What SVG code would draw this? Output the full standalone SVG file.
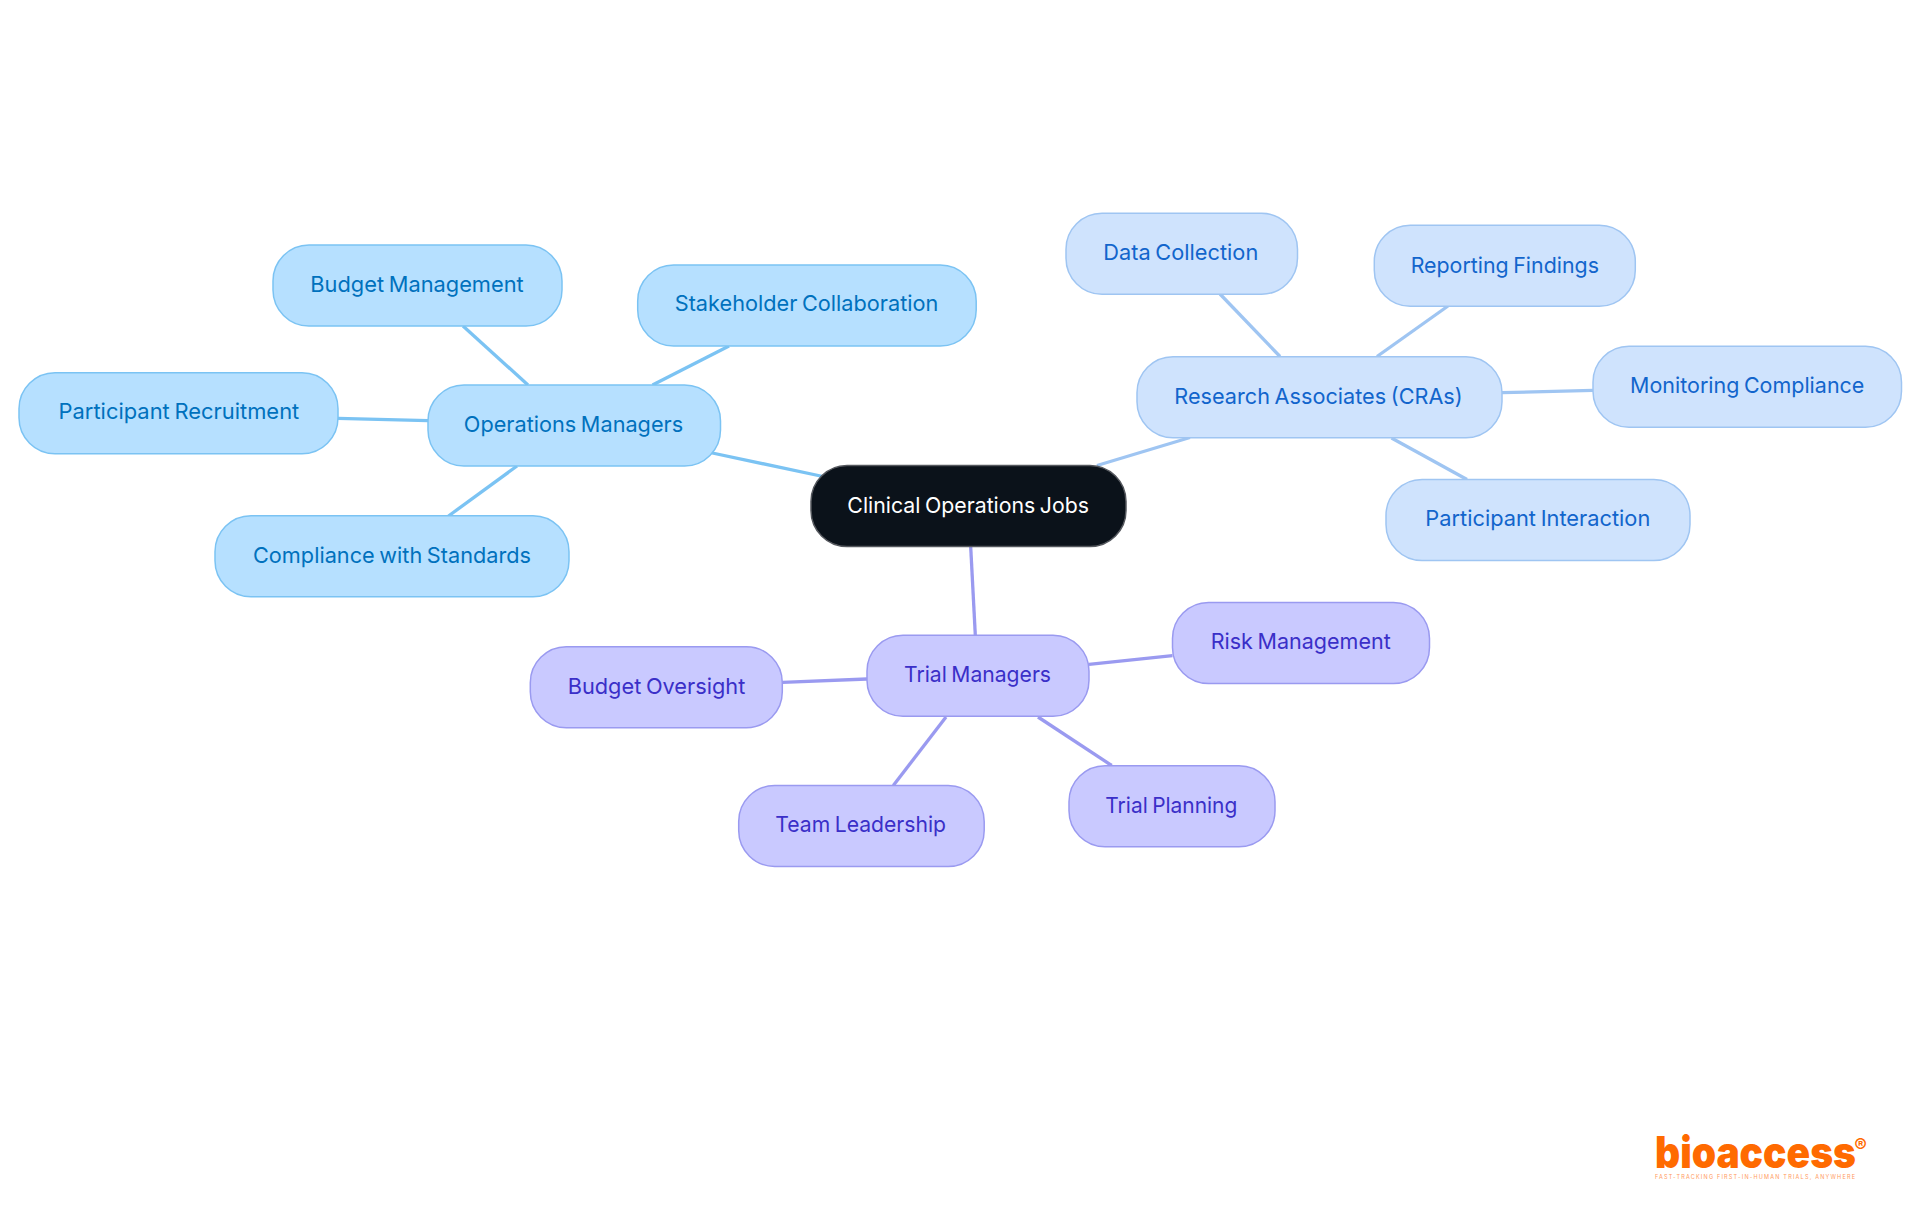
<svg xmlns="http://www.w3.org/2000/svg" width="1920" height="1215" viewBox="0 0 1920 1215">
<style>
text{font-family:"Inter","Noto Sans",sans-serif;font-size:22px;word-spacing:-1.5px;text-anchor:middle}
.n{stroke-width:1.5}
.c{fill:none;stroke-width:3.3}
.a rect{fill:#b6e0ff;stroke:#7bc3f3}.a text{fill:#0071bd}
.b rect{fill:#cfe3fd;stroke:#9fc5f2}.b text{fill:#1265cc}
.d rect{fill:#c9c9ff;stroke:#9a9af0}.d text{fill:#3a2fc8}
.ca{stroke:#7bc3f3}.cb{stroke:#9fc5f2}.cd{stroke:#9a9af0}
</style>
<rect width="1920" height="1215" fill="#fff"/>
<g id="connectors">
<path class="c ca" d="M823 476.500L710 452.500"/>
<path class="c ca" d="M528 385L463 326"/>
<path class="c ca" d="M652.500 385L729 346"/>
<path class="c ca" d="M428 420.700L338 418.300"/>
<path class="c ca" d="M517 466L448.500 516"/>
<path class="c cb" d="M1097 465.500L1190 437.500"/>
<path class="c cb" d="M1280 356.500L1220 294"/>
<path class="c cb" d="M1377 356.500L1448 306"/>
<path class="c cb" d="M1502 392.700L1593 390.300"/>
<path class="c cb" d="M1391.500 438L1467 479.500"/>
<path class="c cd" d="M970.700 547L975.300 635"/>
<path class="c cd" d="M1089 664.300L1172.500 655.700"/>
<path class="c cd" d="M867 679L782.500 682.300"/>
<path class="c cd" d="M946 717L893.300 785.500"/>
<path class="c cd" d="M1038 717L1111.700 765.500"/>
</g>
<g id="root"><rect x="811" y="465.500" width="315" height="81" rx="36" fill="#0b121a" stroke="#55585e" stroke-width="1.500"/><text x="968.200" y="512.900" fill="#fff" textLength="241.700" lengthAdjust="spacingAndGlyphs">Clinical Operations Jobs</text></g>
<g id="ops" class="a"><rect class="n" x="428" y="385" width="292.500" height="81" rx="36"/><text x="573.500" y="432.300" textLength="219.300" lengthAdjust="spacingAndGlyphs">Operations Managers</text></g>
<g id="recruit" class="a"><rect class="n" x="19" y="372.700" width="319" height="81" rx="36"/><text x="178.900" y="419.400" textLength="240.700" lengthAdjust="spacingAndGlyphs">Participant Recruitment</text></g>
<g id="budget" class="a"><rect class="n" x="273" y="245" width="289" height="81" rx="36"/><text x="417" y="292.400" textLength="213.400" lengthAdjust="spacingAndGlyphs">Budget Management</text></g>
<g id="stake" class="a"><rect class="n" x="637.700" y="265" width="338.500" height="81" rx="36"/><text x="806.600" y="311.100" textLength="263.700" lengthAdjust="spacingAndGlyphs">Stakeholder Collaboration</text></g>
<g id="compliance" class="a"><rect class="n" x="215" y="515.700" width="354" height="81" rx="36"/><text x="392" y="563.400" textLength="278" lengthAdjust="spacingAndGlyphs">Compliance with Standards</text></g>
<g id="cra" class="b"><rect class="n" x="1137" y="356.700" width="365" height="81" rx="36"/><text x="1318.500" y="404.100" textLength="288.400" lengthAdjust="spacingAndGlyphs">Research Associates (CRAs)</text></g>
<g id="data" class="b"><rect class="n" x="1066" y="213.300" width="231.500" height="81" rx="36"/><text x="1180.800" y="260.100" textLength="155" lengthAdjust="spacingAndGlyphs">Data Collection</text></g>
<g id="report" class="b"><rect class="n" x="1374.300" y="225.300" width="261" height="81" rx="36"/><text x="1504.800" y="272.600" textLength="188.300" lengthAdjust="spacingAndGlyphs">Reporting Findings</text></g>
<g id="monitor" class="b"><rect class="n" x="1593" y="346.300" width="308.500" height="81" rx="36"/><text x="1747.200" y="393.300" textLength="234.300" lengthAdjust="spacingAndGlyphs">Monitoring Compliance</text></g>
<g id="interact" class="b"><rect class="n" x="1386" y="479.500" width="304" height="81" rx="36"/><text x="1537.800" y="526.300" textLength="225" lengthAdjust="spacingAndGlyphs">Participant Interaction</text></g>
<g id="trial" class="d"><rect class="n" x="867" y="635.200" width="222" height="81" rx="36"/><text x="977.500" y="682.300" textLength="147" lengthAdjust="spacingAndGlyphs">Trial Managers</text></g>
<g id="risk" class="d"><rect class="n" x="1172.500" y="602.500" width="257" height="81" rx="36"/><text x="1300.700" y="649.400" textLength="180" lengthAdjust="spacingAndGlyphs">Risk Management</text></g>
<g id="oversight" class="d"><rect class="n" x="530.300" y="646.700" width="252" height="81" rx="36"/><text x="656.500" y="694.400" textLength="177.600" lengthAdjust="spacingAndGlyphs">Budget Oversight</text></g>
<g id="team" class="d"><rect class="n" x="738.700" y="785.500" width="245.500" height="81" rx="36"/><text x="860.700" y="832.400" textLength="170.700" lengthAdjust="spacingAndGlyphs">Team Leadership</text></g>
<g id="planning" class="d"><rect class="n" x="1069" y="765.800" width="206" height="81" rx="36"/><text x="1171.300" y="813.400" textLength="132" lengthAdjust="spacingAndGlyphs">Trial Planning</text></g>
<g id="logo">
<text x="1655" y="1167.500" style="font-size:44px;font-weight:900;text-anchor:start;fill:#ff6a00;word-spacing:0" textLength="201" lengthAdjust="spacingAndGlyphs">bioaccess</text>
<text x="1860.700" y="1152" style="font-size:19px;font-weight:600;fill:#ff6a00;word-spacing:0">®</text>
<text x="1755" y="1178.500" style="font-size:5.500px;fill:#ff9a5c;word-spacing:0" textLength="200">FAST-TRACKING FIRST-IN-HUMAN TRIALS, ANYWHERE</text>
</g>
</svg>
